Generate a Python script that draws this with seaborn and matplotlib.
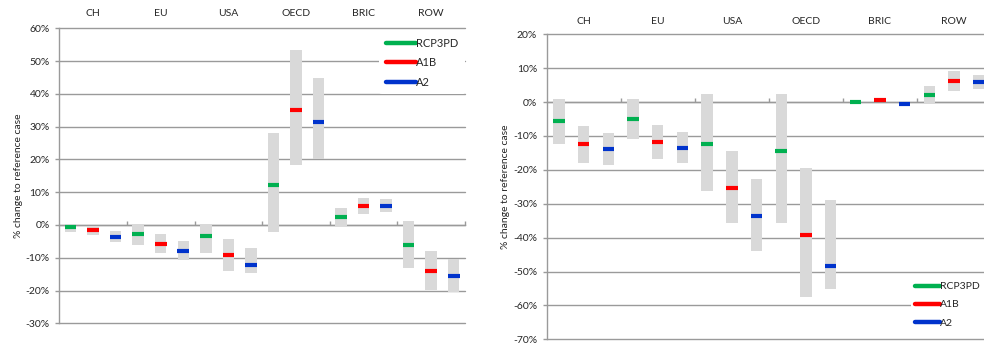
import numpy as np
import pandas as pd
import matplotlib
matplotlib.use("Agg")
import matplotlib.pyplot as plt
from matplotlib.lines import Line2D
import seaborn as sns

# ---------------- data ----------------
regions = ["CH", "EU", "USA", "OECD", "BRIC", "ROW"]
scenarios = ["RCP3PD", "A1B", "A2"]
colors = {"RCP3PD": "#00B050", "A1B": "#FF0000", "A2": "#0033CC"}

# Left panel (values in %)
left_mid = [-0.6, -1.5, -3.7,
            -2.7, -5.8, -7.9,
            -3.4, -9.1, -12.2,
            12.2, 35.0, 31.4,
            2.4, 5.8, 5.8,
            -6.1, -14.0, -15.5]
left_hi = [0.0, -0.5, -1.7,
           0.4, -2.9, -5.0,
           0.4, -4.2, -7.0,
           28.2, 53.5, 44.7,
           5.2, 8.3, 8.0,
           1.3, -7.8, -10.4]
left_lo = [-2.1, -3.1, -5.2,
           -6.0, -8.7, -10.6,
           -8.7, -13.9, -14.6,
           -2.2, 18.2, 20.0,
           -0.4, 3.2, 3.9,
           -13.1, -19.7, -20.4]

# Right panel (values in %)
right_mid = [-5.7, -12.5, -13.9,
             -5.1, -11.9, -13.6,
             -12.5, -25.4, -33.7,
             -14.5, -39.3, -48.5,
             -0.1, 0.5, -0.5,
             2.0, 6.1, 5.8]
right_hi = [0.9, -7.0, -9.2,
            0.9, -6.7, -8.9,
            2.3, -14.5, -22.7,
            2.4, -19.5, -29.0,
            -0.1, 0.5, -0.5,
            4.8, 9.2, 7.9]
right_lo = [-12.3, -18.0, -18.5,
            -10.8, -16.9, -18.0,
            -26.2, -35.8, -43.8,
            -35.6, -57.4, -55.2,
            -0.1, 0.5, -0.5,
            -0.5, 3.4, 3.9]

left_yticks = list(range(-30, 61, 10))
right_yticks = list(range(-70, 21, 10))


def make_df(mid, lo, hi):
    rows = []
    for i, r in enumerate(regions):
        for j, s in enumerate(scenarios):
            k = i * 3 + j
            rows.append(dict(region=r, scenario=s, pos=k,
                             mid=mid[k], lo=lo[k], hi=hi[k]))
    return pd.DataFrame(rows)


sns.set_theme(style="white")
plt.rcParams["font.family"] = ["Lato", "DejaVu Sans"]

GRID = "#9a9a9a"
TXT = "#262626"
BAR = "#D9D9D9"

fig = plt.figure(figsize=(9.84, 3.45), dpi=100)
axL = fig.add_axes([59.3 / 984, 1 - 323.3 / 345, 405.7 / 984, 295.0 / 345])
axR = fig.add_axes([546.7 / 984, 1 - 339.3 / 345, 444.3 / 984, 305.0 / 345])


def draw(ax, df, yticks, barw, mk_pts, cat_pad, legend_kw):
    ax.set_xlim(-0.5, 17.5)
    ax.set_ylim(yticks[0], yticks[-1])
    # range bars
    ax.bar(df["pos"], df["hi"] - df["lo"], bottom=df["lo"], width=barw,
           color=BAR, zorder=3, linewidth=0)
    # central value markers
    sns.scatterplot(data=df, x="pos", y="mid", hue="scenario",
                    palette=colors, marker="_", s=mk_pts ** 2,
                    linewidth=3.0, legend=False, ax=ax, zorder=4)
    ax.set_xlabel("")
    ax.set_ylabel("% change to reference case", fontsize=7.5, color=TXT,
                  labelpad=2)
    # gridlines
    ax.set_yticks(yticks)
    ax.set_yticklabels([f"{t}%" for t in yticks], fontsize=7.5, color=TXT)
    ax.yaxis.grid(True, color=GRID, linewidth=1.0, zorder=0)
    for gl in ax.get_ygridlines():
        gl.set_clip_on(False)
    ax.set_axisbelow(True)
    ax.tick_params(axis="y", length=3, width=1.0, color=GRID, pad=4,
                   left=True)
    # spines
    for side in ["top", "right"]:
        ax.spines[side].set_visible(False)
    ax.spines["left"].set_color(GRID)
    ax.spines["left"].set_linewidth(1.0)
    ax.spines["bottom"].set_position(("data", 0))
    ax.spines["bottom"].set_color(GRID)
    ax.spines["bottom"].set_linewidth(1.0)
    ax.spines["bottom"].set_zorder(2)
    ax.set_xticks([2.5, 5.5, 8.5, 11.5, 14.5, 17.5])
    ax.set_xticklabels([])
    ax.tick_params(axis="x", direction="in", length=3, width=1.0,
                   color=GRID, bottom=True)
    # category labels at top
    sec = ax.secondary_xaxis("top")
    sec.set_xticks([1 + 3 * i for i in range(len(regions))])
    sec.set_xticklabels(regions, fontsize=7.5, color=TXT)
    sec.tick_params(length=0, pad=cat_pad)
    sec.spines["top"].set_visible(False)
    # legend
    fs = legend_kw.pop("fontsize")
    hl = legend_kw.pop("handlelength")
    ls = legend_kw.pop("labelspacing")
    bp = legend_kw.pop("borderpad")
    handles = [Line2D([0], [0], color=colors[s], lw=3.2) for s in scenarios]
    leg = ax.legend(handles, scenarios, fontsize=fs, frameon=True,
                    handlelength=hl, handletextpad=0.0, labelspacing=ls,
                    borderpad=bp, borderaxespad=0.0, **legend_kw)
    leg.get_frame().set_facecolor("white")
    leg.get_frame().set_edgecolor("none")
    leg.get_frame().set_alpha(1)
    leg.set_zorder(5)
    for t in leg.get_texts():
        t.set_color(TXT)


dfL = make_df(left_mid, left_lo, left_hi)
dfR = make_df(right_mid, right_lo, right_hi)

draw(axL, dfL, left_yticks, 0.51, 8.4, 7.5,
     dict(loc="upper right", bbox_to_anchor=(1.0, 0.990),
          fontsize=8, handlelength=2.7, labelspacing=0.75, borderpad=0.6))
draw(axR, dfR, right_yticks, 0.46, 8.2, 6.0,
     dict(loc="lower right", bbox_to_anchor=(0.984, 0.025),
          fontsize=7.5, handlelength=2.4, labelspacing=0.85, borderpad=0.4))

fig.savefig("out.png", dpi=100)
